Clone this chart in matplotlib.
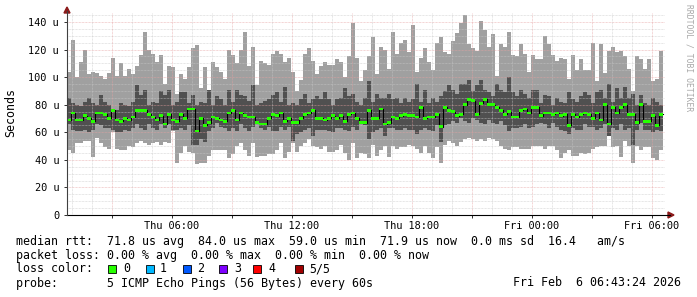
import numpy as np
import matplotlib.pyplot as plt
from matplotlib.lines import Line2D
from matplotlib.patches import Polygon, Rectangle

plt.rcParams['font.family'] = ['DejaVu Sans Mono']

# smokeping: 5 pings per 12 min step, values in microseconds
step_h = 0.2          # 12 minutes
t_start = 0.75        # Thu 00:45, hours since Thu 00:00

ping_max = [104, 127, 100, 111, 120, 102, 104, 103, 101, 99, 103, 114, 101, 110, 101, 106, 102, 108, 116, 133,
            120, 117, 111, 116, 95, 108, 107, 88, 102, 99, 107, 121, 123, 92, 107, 85, 111, 107, 104, 99,
            120, 116, 110, 120, 133, 108, 122, 94, 112, 110, 109, 117, 119, 117, 111, 114, 104, 90, 98, 117,
            121, 112, 102, 108, 111, 109, 109, 113, 111, 100, 115, 139, 114, 97, 105, 115, 129, 102, 122, 120,
            106, 133, 117, 125, 127, 118, 138, 104, 114, 121, 111, 105, 125, 129, 118, 117, 126, 132, 139, 145,
            124, 121, 119, 141, 134, 122, 131, 101, 124, 122, 133, 116, 115, 124, 117, 104, 116, 113, 113, 130,
            124, 116, 112, 114, 113, 99, 116, 105, 113, 105, 105, 125, 97, 124, 103, 119, 122, 118, 119, 115,
            106, 90, 115, 113, 106, 113, 97, 99, 119]

ping_hi = [85, 81, 80, 79, 82, 85, 81, 80, 87, 82, 80, 77, 76, 81, 80, 79, 82, 94, 87, 91,
           80, 82, 81, 90, 87, 91, 80, 82, 89, 89, 81, 87, 80, 82, 81, 91, 80,
           86, 84, 80, 91, 82, 91, 87, 86, 83, 94, 80, 81, 83, 84, 87, 89, 82, 93, 80, 81,
           80, 84, 88, 81, 84, 86, 84, 89, 84, 80, 84, 85, 92, 86, 88, 82, 80,
           85, 97, 82, 88, 85, 85, 88, 84, 85, 81, 85, 82, 84, 95, 82, 91, 81, 85, 82, 86,
           90, 94, 91, 88, 95, 95, 98, 90, 94, 98, 91, 89, 86, 95, 91, 89, 100, 89,
           86, 91, 88, 85, 91, 91, 81, 87, 86, 80, 85, 82, 81, 89, 84, 82, 86, 89, 87, 81,
           89, 91, 85, 95, 82, 92, 85, 93, 85, 88, 80, 87, 81, 80, 85, 82, 80]

ping_med = [69, 74, 69, 69, 72, 70, 68, 74, 74, 73, 70, 76, 69, 68, 70, 69, 71, 76, 76, 76,
            73, 71, 69, 72, 66, 73, 69, 68, 73, 70, 77, 77, 61, 70, 65, 67, 71,
            70, 69, 68, 74, 76, 69, 74, 72, 71, 71, 67, 66, 66, 70, 73, 72, 74, 68, 70, 67,
            67, 70, 73, 74, 76, 70, 70, 69, 70, 72, 70, 72, 68, 73, 74, 70, 67,
            67, 76, 70, 70, 77, 66, 67, 71, 70, 72, 73, 72, 72, 71, 78, 70, 71, 71, 73, 64,
            78, 76, 75, 72, 73, 80, 84, 83, 73, 81, 84, 80, 80, 78, 76, 73, 75, 71,
            71, 76, 77, 74, 78, 78, 72, 74, 74, 73, 74, 72, 73, 65, 73, 71, 73, 74, 73, 70,
            74, 69, 80, 66, 78, 74, 78, 80, 73, 73, 67, 80, 68, 68, 72, 65, 73]

ping_lo = [66, 62, 61, 61, 62, 60, 62, 66, 65, 63, 63, 62, 60, 60, 62, 61, 63, 66, 63, 62,
           66, 63, 62, 66, 63, 66, 62, 62, 63, 62, 65, 51, 51, 55, 53, 61, 63,
           67, 64, 63, 61, 63, 61, 66, 63, 61, 64, 66, 63, 62, 64, 61, 61, 64, 62, 64, 54,
           59, 60, 62, 63, 57, 62, 62, 62, 61, 60, 63, 63, 62, 61, 64, 62, 66,
           65, 55, 60, 62, 63, 57, 63, 63, 62, 62, 63, 62, 62, 59, 62, 63, 62, 61, 65, 53,
           65, 66, 68, 67, 70, 68, 67, 70, 69, 67, 66, 69, 67, 66, 68, 65, 61, 63,
           63, 64, 66, 63, 64, 66, 67, 66, 63, 67, 64, 62, 61, 59, 63, 62, 62, 66, 64, 64,
           62, 63, 66, 57, 63, 62, 66, 62, 63, 51, 62, 67, 62, 62, 60, 62, 61]

ping_min = [47, 45, 52, 52, 54, 54, 42, 56, 52, 49, 48, 60, 48, 47, 47, 50, 49, 52, 54, 52,
            51, 52, 53, 51, 53, 52, 61, 38, 45, 50, 46, 45, 37, 38, 38, 43, 47,
            47, 47, 47, 41, 44, 50, 52, 47, 43, 52, 42, 43, 43, 44, 44, 47, 52, 41, 46, 52,
            46, 50, 52, 55, 50, 49, 48, 50, 46, 46, 47, 51, 45, 40, 52, 41, 45,
            44, 41, 51, 43, 47, 50, 42, 50, 48, 49, 49, 51, 50, 48, 45, 50, 45, 41, 49, 38,
            51, 54, 52, 50, 53, 55, 56, 55, 54, 55, 54, 56, 55, 54, 50, 48, 47, 49,
            49, 48, 48, 48, 50, 50, 50, 48, 50, 50, 47, 41, 45, 47, 43, 43, 45, 44, 45, 48,
            49, 50, 50, 57, 49, 50, 42, 54, 50, 38, 50, 47, 49, 49, 41, 40, 47]

for s in (ping_hi, ping_med, ping_lo, ping_min):
    assert len(s) == len(ping_max), (len(s), len(ping_max))

x_ticks = [6, 12, 18, 24, 30]
x_labels = ["Thu 06:00", "Thu 12:00", "Thu 18:00", "Fri 00:00", "Fri 06:00"]
y_ticks = [0, 20, 40, 60, 80, 100, 120, 140]
y_labels = ["0", "20 u", "40 u", "60 u", "80 u", "100 u", "120 u", "140 u"]

loss_colors = ['#26ff00', '#00b8ff', '#0059ff', '#7e00ff', '#ff0000', '#a00000']
loss_names = ['0', '1', '2', '3', '4', '5/5']

W, H = 697, 297


def fx(px):
    return px / W


def fy(py):
    return 1 - py / H


fig = plt.figure(figsize=(W / 100, H / 100), dpi=100)
ax = fig.add_axes([fx(67), fy(215), (665 - 67) / W, (215 - 13) / H])
ax.set_xlim(0.75, 30.65)
ax.set_ylim(0, 202 / 1.3786)

n = len(ping_max)
edges = t_start + step_h * np.arange(n + 1)


def ext(v):
    v = np.asarray(v, dtype=float)
    return np.append(v, v[-1])


top = np.maximum(ping_max, ping_hi)
bot = np.minimum(ping_min, ping_lo)
ax.fill_between(edges, ext(bot), ext(top), step='post', color='#a0a0a0', lw=0, zorder=1)
ax.fill_between(edges, ext(ping_lo), ext(ping_hi), step='post', color='#505050', lw=0, zorder=1.2)

# grid (dotted, drawn over the smoke)
dots = (0, (0.72, 0.72))
for v in range(5, 147, 5):
    c = '#e6a0a0' if v % 20 == 0 else '#c8c8c8'
    ax.axhline(v, color=c, lw=0.72, ls=dots, alpha=0.6, zorder=2)
for h in range(1, 31):
    c = '#e6a0a0' if h % 3 == 0 else '#c8c8c8'
    ax.axvline(h, color=c, lw=0.72, ls=dots, alpha=0.6, zorder=2)

# median: black step line + green marks (loss 0)
ax.step(edges, ext(ping_med), where='post', color='#000000', lw=0.8, zorder=3)
med = np.asarray(ping_med, dtype=float)
ax.bar(edges[:-1], np.full(n, 1.9), bottom=med - 0.95, width=step_h, align='edge',
       color=loss_colors[0], lw=0, zorder=4)

for sp in ax.spines.values():
    sp.set_visible(False)

ax.set_xticks(np.arange(3, 31, 3))
ax.set_xticklabels([x_labels[x_ticks.index(h)] if h in x_ticks else '' for h in range(3, 31, 3)])
ax.set_yticks(y_ticks)
ax.set_yticklabels(y_labels)
ax.tick_params(axis='both', length=2.2, width=0.7, color='#303030', labelsize=7.4)
ax.tick_params(axis='x', pad=2)
ax.tick_params(axis='y', pad=3.5)

# axes with arrows
fig.add_artist(Line2D([fx(67), fx(670)], [fy(215), fy(215)], color='#000000', lw=0.8))
fig.add_artist(Line2D([fx(67), fx(67)], [fy(215), fy(11)], color='#404040', lw=0.8))
fig.add_artist(Polygon([[fx(64), fy(13)], [fx(70), fy(13)], [fx(67), fy(7)]], closed=True,
                       color='#8b1a1a', transform=fig.transFigure))
fig.add_artist(Polygon([[fx(668), fy(212)], [fx(668), fy(218)], [fx(674), fy(215)]], closed=True,
                       color='#8b1a1a', transform=fig.transFigure))

fig.text(fx(11), fy(113), 'Seconds', rotation=90, ha='center', va='center', fontsize=8.4)
fig.text(fx(689), fy(58), 'RRDTOOL / TOBI OETIKER', rotation=270, ha='center', va='center',
         fontsize=5.8, color='#a8a8a8')

fs = 8.4
fig.text(fx(16), fy(241), 'median rtt:  71.8 us avg  84.0 us max  59.0 us min  71.9 us now  0.0 ms sd  16.4   am/s',
         ha='left', va='center', fontsize=fs)
fig.text(fx(16), fy(255), 'packet loss: 0.00 % avg  0.00 % max  0.00 % min  0.00 % now',
         ha='left', va='center', fontsize=fs)
fig.text(fx(16), fy(269), 'loss color:', ha='left', va='center', fontsize=fs)
box_x = [108, 146, 183, 219, 253, 295]
lab_x = [123, 160, 197, 234, 268, 309]
for bx, lx, c, name in zip(box_x, lab_x, loss_colors, loss_names):
    fig.add_artist(Rectangle((fx(bx), fy(273)), 8 / W, 8 / H, transform=fig.transFigure,
                             facecolor=c, edgecolor='#000000', lw=0.6))
    fig.text(fx(lx), fy(269), name, ha='left', va='center', fontsize=fs)
fig.text(fx(16), fy(283), 'probe:       5 ICMP Echo Pings (56 Bytes) every 60s',
         ha='left', va='center', fontsize=fs)
fig.text(fx(681), fy(283), 'Fri Feb  6 06:43:24 2026', ha='right', va='center', fontsize=fs)

fig.savefig('out.png', dpi=100, facecolor='white')
